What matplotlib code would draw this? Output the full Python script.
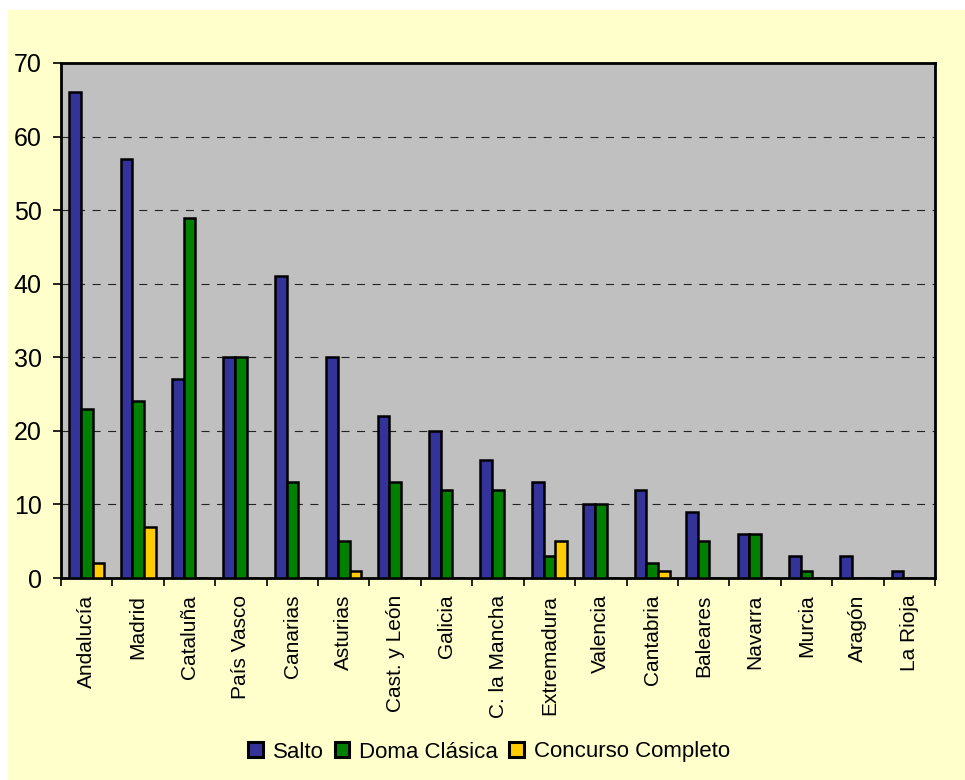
import matplotlib
matplotlib.use("Agg")
import matplotlib.pyplot as plt
import numpy as np
from matplotlib.patches import Rectangle
from matplotlib.ticker import FixedLocator, NullFormatter

plt.rcParams['font.family'] = ['Liberation Sans', 'DejaVu Sans']

categories = ["Andalucía", "Madrid", "Cataluña", "País Vasco", "Canarias", "Asturias",
              "Cast. y León", "Galicia", "C. la Mancha", "Extremadura", "Valencia",
              "Cantabria", "Baleares", "Navarra", "Murcia", "Aragón", "La Rioja"]
salto = [66, 57, 27, 30, 41, 30, 22, 20, 16, 13, 10, 12, 9, 6, 3, 3, 1]
doma = [23, 24, 49, 30, 13, 5, 13, 12, 12, 3, 10, 2, 5, 6, 1, 0, 0]
concurso = [2, 7, 0, 0, 0, 1, 0, 0, 0, 5, 0, 1, 0, 0, 0, 0, 0]
series_names = ["Salto", "Doma Clásica", "Concurso Completo"]
colors = ["#333399", "#008000", "#FFCC00"]

W, H = 965, 780
fig = plt.figure(figsize=(W / 100, H / 100), dpi=100, facecolor="white")
fig.patches.append(Rectangle((8 / W, 0), 1 - 8 / W, 1 - 10 / H, transform=fig.transFigure,
                             facecolor="#FFFFCC", edgecolor="none", zorder=-10))

ax = fig.add_axes([61 / W, 1 - 578 / H, (935 - 61) / W, (578 - 63) / H])
ax.set_facecolor("#C0C0C0")

x = np.arange(len(categories))
bw = 0.227
for i, (vals, name, c) in enumerate(zip([salto, doma, concurso], series_names, colors)):
    ax.bar(x + (i - 1) * bw, vals, width=bw, color=c, edgecolor="black", linewidth=1.8,
           label=name, zorder=3)

ax.set_xlim(-0.5, len(categories) - 0.5)
ax.set_ylim(0, 70)
ax.set_yticks(range(0, 71, 10))
ax.tick_params(axis='y', labelsize=18, direction='out', length=6, width=1.2, pad=8)
for y in range(10, 70, 10):
    ax.axhline(y, color="#222222", linestyle=(0, (7.2, 6.8)), linewidth=0.8, zorder=1)

ax.set_xticks(x)
ax.set_xticklabels(categories, rotation=90, fontsize=15, va='top', ha='center')
ax.tick_params(axis='x', which='major', length=0, pad=12)
ax.xaxis.set_minor_locator(FixedLocator(np.arange(-0.5, len(categories), 1.0)))
ax.xaxis.set_minor_formatter(NullFormatter())
ax.tick_params(axis='x', which='minor', length=5.5, width=1.2, direction='out')

for s in ax.spines.values():
    s.set_linewidth(2)
    s.set_color("black")

leg = fig.legend(loc="center", bbox_to_anchor=(489 / W, 1 - 752 / H), ncol=3, frameon=False,
                 fontsize=16, handlelength=0.65, handleheight=0.65, handletextpad=0.45,
                 columnspacing=0.5, borderpad=0)
for h in leg.legend_handles:
    h.set_linewidth(2.2)

fig.savefig("out.png", dpi=100, facecolor=fig.get_facecolor())
